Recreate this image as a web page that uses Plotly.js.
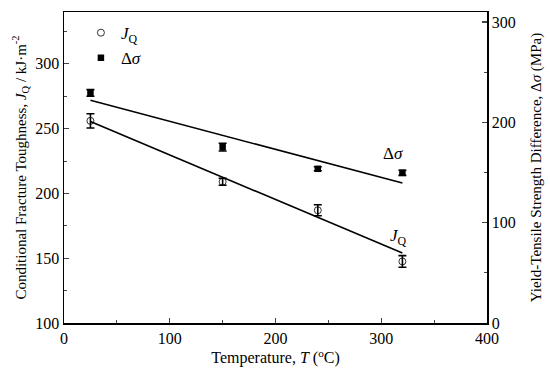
<!DOCTYPE html>
<html>
<head>
<meta charset="utf-8">
<script src="https://cdn.plot.ly/plotly-3.0.1.min.js"></script>
<style>html,body{margin:0;padding:0;background:#fff;}#chart{width:550px;height:374px;}</style>
</head>
<body>
<div id="chart"></div>
<script>
// Data
var temperature = [25, 150, 240, 320];
var jq = [256, 209, 187, 147.5];
var jqErr = [5.5, 2.7, 4.2, 4.5];
var dsigma = [229.3, 175.3, 153.7, 149.7];
var dsigmaErr = [3.3, 3.8, 2, 2.5];
var fitX = [25, 320];
var fitJQ = [255.5, 154];
var fitDS = [222, 139.5];
var xTicks = [0, 100, 200, 300, 400];
var yTicks = [100, 150, 200, 250, 300];
var y2Ticks = [0, 100, 200, 300];

var font = 'Liberation Serif, Times New Roman, serif';

var traces = [
  {x: fitX, y: fitJQ, mode: 'lines', line: {color: '#000', width: 1.6}, showlegend: false, hoverinfo: 'skip'},
  {x: fitX, y: fitDS, yaxis: 'y2', mode: 'lines', line: {color: '#000', width: 1.6}, showlegend: false, hoverinfo: 'skip'},
  {x: temperature, y: jq, mode: 'markers', name: '<i>J</i><sub>Q</sub>',
   marker: {symbol: 'circle-open', size: 7, color: '#000', line: {width: 0.8, color: '#000'}},
   error_y: {type: 'data', array: jqErr, visible: true, color: '#000', thickness: 1.6, width: 4}},
  {x: temperature, y: dsigma, yaxis: 'y2', mode: 'markers', name: 'Δ<i>σ</i>',
   marker: {symbol: 'square', size: 6.5, color: '#000'},
   error_y: {type: 'data', array: dsigmaErr, visible: true, color: '#000', thickness: 1.6, width: 4}}
];

var layout = {
  width: 550, height: 374,
  margin: {l: 64, r: 63, t: 11.5, b: 50.7},
  paper_bgcolor: '#fff', plot_bgcolor: '#fff',
  font: {family: font, color: '#000', size: 16},
  showlegend: true,
  legend: {x: 0.04, y: 0.99, xanchor: 'left', yanchor: 'top', bgcolor: 'rgba(0,0,0,0)',
           font: {family: font, size: 17}, itemwidth: 30, tracegroupgap: 0},
  xaxis: {range: [0, 400], tickvals: xTicks, ticks: 'inside', ticklen: 5, tickwidth: 1.2,
          showline: true, linecolor: '#000', linewidth: 1.5, mirror: true, showgrid: false, zeroline: false,
          minor: {dtick: 50, ticks: 'inside', ticklen: 3, tickwidth: 1},
          tickfont: {size: 16},
          title: {text: 'Temperature, <i>T</i> (<sup>o</sup>C)', font: {size: 16}, standoff: 3}},
  yaxis: {range: [100, 340], tickvals: yTicks, ticks: 'inside', ticklen: 5, tickwidth: 1.2,
          showline: true, linecolor: '#000', linewidth: 1.5, showgrid: false, zeroline: false,
          minor: {dtick: 25, ticks: 'inside', ticklen: 3, tickwidth: 1},
          tickfont: {size: 16},
          title: {text: 'Conditional Fracture Toughness, <i>J</i><sub>Q</sub> / kJ·m<sup>-2</sup>', font: {size: 15}, standoff: 5}},
  yaxis2: {range: [0, 310], tickvals: y2Ticks, overlaying: 'y', side: 'right', ticks: 'inside', ticklen: 5, tickwidth: 1.2,
          showline: true, linecolor: '#000', linewidth: 1.5, showgrid: false, zeroline: false,
          minor: {dtick: 50, ticks: 'inside', ticklen: 3, tickwidth: 1},
          tickfont: {size: 16},
          title: {text: 'Yield-Tensile Strength Difference, Δ<i>σ</i> (MPa)', font: {size: 15}, standoff: 16}},
  annotations: [
    {x: 311, y: 169, xref: 'x', yref: 'y2', text: 'Δ<i>σ</i>', showarrow: false, font: {family: font, size: 17}},
    {x: 316, y: 166.5, xref: 'x', yref: 'y', text: '<i>J</i><sub>Q</sub>', showarrow: false, font: {family: font, size: 17}}
  ]
};

Plotly.newPlot('chart', traces, layout, {staticPlot: true, displayModeBar: false});
</script>
</body>
</html>
